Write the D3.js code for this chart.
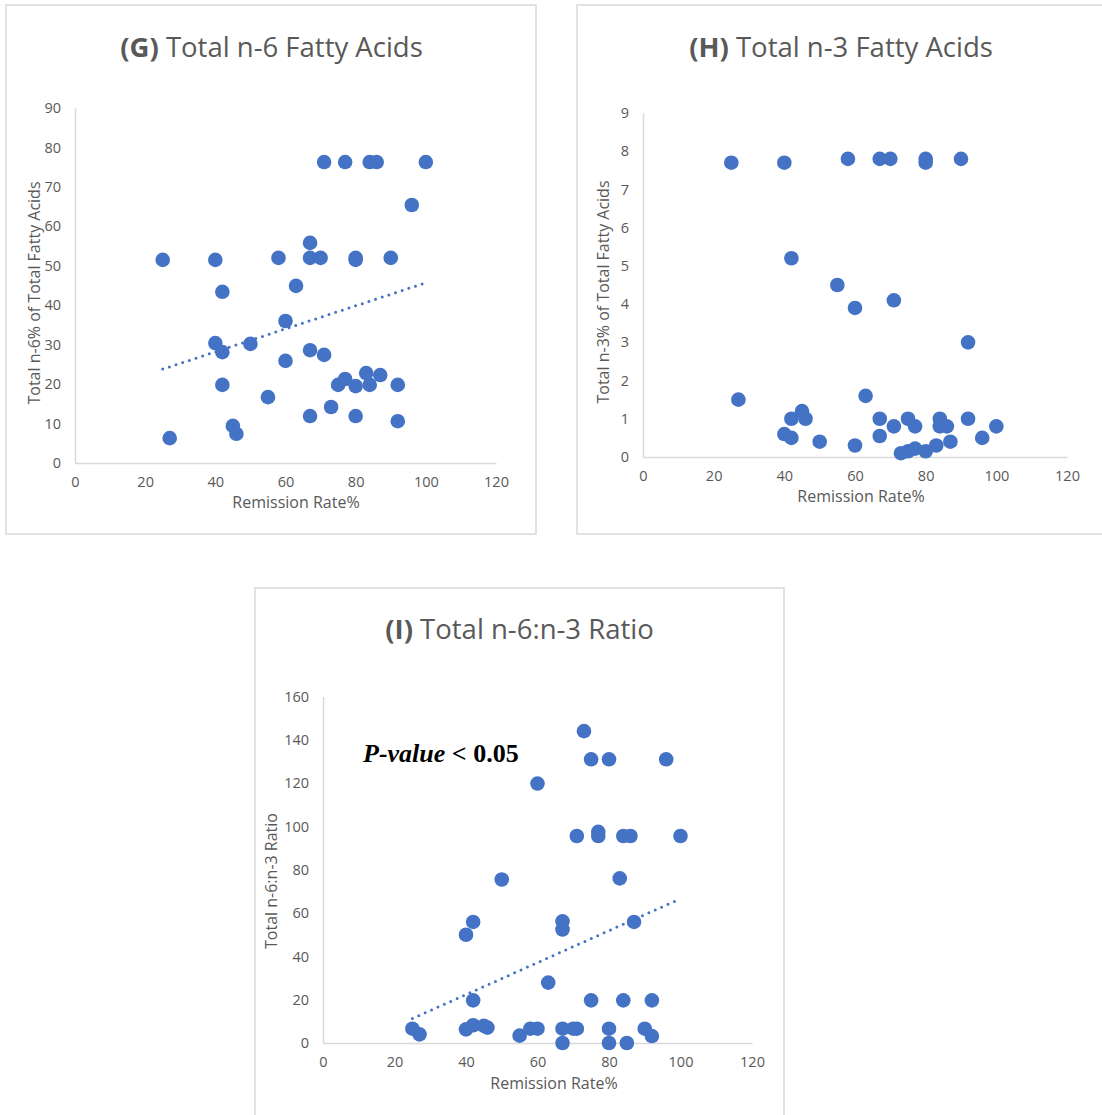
<!DOCTYPE html>
<html>
<head>
<meta charset="utf-8">
<script src="https://cdn.jsdelivr.net/npm/d3@7"></script>
<style>
    body { margin: 0; background: #fff; }
    text { font-family: "Open Sans", sans-serif; }
</style>
</head>
<body>
<div id="chart"></div>
<script>
// remission rate (%) vs fatty acid measures
const rateG = [25, 27, 40, 42, 40, 42, 42, 45, 46, 50, 55, 58, 60, 60, 63, 67, 67, 67, 67, 70,
    71, 71, 73, 75, 77, 77, 80, 80, 80, 80, 83, 84, 86, 84, 87, 90, 92, 92, 96, 100];
const n6 = [51.5, 6.3, 51.5, 43.4, 30.4, 28.1, 19.8, 9.4, 7.4, 30.2, 16.7, 52, 36, 25.9, 44.9, 55.8, 52, 28.6, 11.9, 52,
    76.3, 27.4, 14.2, 19.8, 21.3, 76.3, 51.5, 52, 19.5, 11.9, 22.8, 76.3, 76.3, 19.8, 22.3, 52, 19.8, 10.6, 65.4, 76.3];
const trendG = [[25, 23.8], [99, 45.4]];

const rateH = [25, 40, 42, 55, 27, 45, 42, 46, 40, 42, 50, 58, 67, 70, 80, 80, 90, 60, 71, 92,
    63, 67, 75, 84, 92, 71, 77, 84, 86, 100, 67, 96, 87, 60, 83, 73, 75, 77, 80];
const n3 = [7.7, 7.7, 5.2, 4.5, 1.5, 1.2, 1.0, 1.0, 0.6, 0.5, 0.4, 7.8, 7.8, 7.8, 7.8, 7.7, 7.8, 3.9, 4.1, 3.0,
    1.6, 1.0, 1.0, 1.0, 1.0, 0.8, 0.8, 0.8, 0.8, 0.8, 0.55, 0.5, 0.4, 0.3, 0.3, 0.1, 0.15, 0.22, 0.15];

const rateI = [25, 27, 40, 42, 50, 60, 42, 40, 42, 45, 46, 55, 58, 60, 63, 73, 75, 80, 96, 71,
    77, 77, 84, 86, 100, 83, 67, 67, 87, 75, 84, 92, 67, 70, 71, 80, 90, 92, 67, 80, 85];
const ratio = [6.6, 4, 50, 55.9, 75.5, 119.8, 19.7, 6.3, 8.2, 7.9, 7.1, 3.4, 6.6, 6.6, 27.9, 144, 131, 131, 131, 95.6,
    97.5, 95.6, 95.6, 95.6, 95.6, 76, 56.2, 52.4, 55.9, 19.7, 19.7, 19.7, 6.6, 6.6, 6.6, 6.6, 6.6, 3.2, 0, 0, 0];
const trendI = [[25, 11.3], [99, 65.9]];

const xTicks = [0, 20, 40, 60, 80, 100, 120];
const yTicksG = [0, 10, 20, 30, 40, 50, 60, 70, 80, 90];
const yTicksH = [0, 1, 2, 3, 4, 5, 6, 7, 8, 9];
const yTicksI = [0, 20, 40, 60, 80, 100, 120, 140, 160];

const blue = "#4472C4";
const grey = "#595959";
const lineGrey = "#d9d9d9";

const svg = d3.select("#chart").append("svg")
    .attr("width", 1102)
    .attr("height", 1115);

function drawPanel(p) {
    // frame
    svg.append("rect")
        .attr("x", p.box[0]).attr("y", p.box[1])
        .attr("width", p.box[2]).attr("height", p.box[3])
        .attr("fill", "none")
        .attr("stroke", lineGrey)
        .attr("stroke-width", 1.5);

    const x = d3.scaleLinear().domain([0, 120]).range(p.xRange);
    const y = d3.scaleLinear().domain([0, p.yTicks[p.yTicks.length - 1]]).range(p.yRange);

    const gx = svg.append("g")
        .attr("transform", "translate(0," + p.yRange[0] + ")")
        .call(d3.axisBottom(x).tickValues(xTicks).tickSize(0).tickPadding(14));
    const gy = svg.append("g")
        .attr("transform", "translate(" + p.xRange[0] + ",0)")
        .call(d3.axisLeft(y).tickValues(p.yTicks).tickSize(0).tickPadding(14));

    [gx, gy].forEach(function (g) {
        g.select(".domain").attr("stroke", lineGrey).attr("stroke-width", 1.5);
        g.selectAll("text")
            .attr("fill", grey)
            .style("font-size", "14.5px")
            .style("font-family", "Open Sans, sans-serif");
    });

    if (p.trend) {
        svg.append("path")
            .datum(p.trend)
            .attr("d", d3.line().x(d => x(d[0])).y(d => y(d[1])))
            .attr("fill", "none")
            .attr("stroke", blue)
            .attr("stroke-width", 3)
            .attr("stroke-linecap", "round")
            .attr("stroke-dasharray", "0 7");
    }

    svg.append("g").selectAll("circle")
        .data(p.xs.map((v, i) => [v, p.ys[i]]))
        .enter().append("circle")
        .attr("cx", d => x(d[0]))
        .attr("cy", d => y(d[1]))
        .attr("r", 7.3)
        .attr("fill", blue);

    const title = svg.append("text")
        .attr("x", p.title[0]).attr("y", p.title[1])
        .attr("text-anchor", "middle")
        .attr("fill", grey)
        .style("font-size", "27.5px");
    title.append("tspan").attr("font-weight", "bold").text(p.label);
    title.append("tspan").text(" " + p.name);

    svg.append("text")
        .attr("x", p.xTitle[0]).attr("y", p.xTitle[1])
        .attr("text-anchor", "middle")
        .attr("fill", grey)
        .style("font-size", "16px")
        .text("Remission Rate%");

    svg.append("text")
        .attr("transform", "translate(" + p.yTitle[0] + "," + p.yTitle[1] + ") rotate(-90)")
        .attr("text-anchor", "middle")
        .attr("fill", grey)
        .style("font-size", "16px")
        .text(p.yName);
}

drawPanel({
    box: [6, 5, 530, 529],
    xRange: [75, 496], yRange: [463, 108], yTicks: yTicksG,
    xs: rateG, ys: n6, trend: trendG,
    label: "(G)", name: "Total n-6 Fatty Acids", title: [271.5, 57],
    xTitle: [296, 508], yTitle: [40, 293], yName: "Total n-6% of Total Fatty Acids"
});

drawPanel({
    box: [577, 5, 540, 529],
    xRange: [643, 1067], yRange: [457, 113], yTicks: yTicksH,
    xs: rateH, ys: n3, trend: null,
    label: "(H)", name: "Total n-3 Fatty Acids", title: [841, 57],
    xTitle: [861, 502], yTitle: [609, 292], yName: "Total n-3% of Total Fatty Acids"
});

drawPanel({
    box: [255, 588, 529, 540],
    xRange: [323, 752], yRange: [1043, 696.5], yTicks: yTicksI,
    xs: rateI, ys: ratio, trend: trendI,
    label: "(I)", name: "Total n-6:n-3 Ratio", title: [519.5, 639],
    xTitle: [554, 1089], yTitle: [277, 881], yName: "Total n-6:n-3 Ratio"
});

const pv = svg.append("text")
    .attr("x", 363).attr("y", 762)
    .attr("fill", "#000")
    .style("font-family", "Liberation Serif, Times New Roman, serif")
    .style("font-size", "26px")
    .style("font-weight", "bold");
pv.append("tspan").style("font-style", "italic").text("P-value");
pv.append("tspan").text(" < 0.05");
</script>
</body>
</html>
